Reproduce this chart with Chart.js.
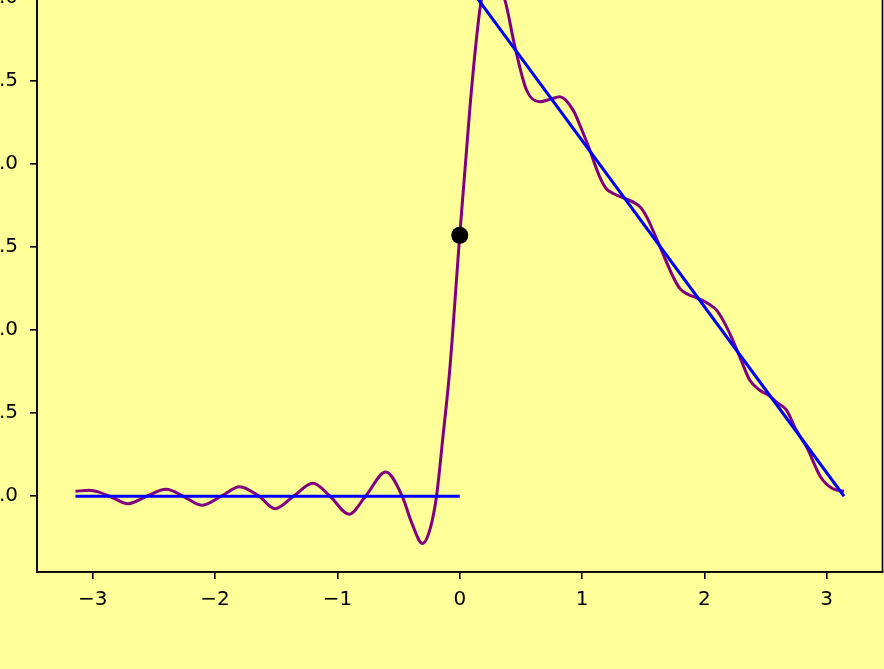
<!DOCTYPE html>
<html>
<head>
<meta charset="utf-8">
<script src="https://cdn.jsdelivr.net/npm/chart.js@4"></script>
<style>
    html, body {margin: 0; padding: 0; background: #ffff99; overflow: hidden; width: 884px; height: 669px;}
    #chart {position: absolute; left: 0; top: -84px;}
</style>
</head>
<body>
<canvas id="chart" width="891" height="753"></canvas>
<script>
// partial Fourier sum
const fourierX = [-3.1416, -3.03, -2.95, -2.86, -2.71, -2.56, -2.40, -2.26, -2.11, -1.95, -1.80, -1.64,
    -1.51, -1.36, -1.20, -1.06, -0.905, -0.77, -0.605, -0.47, -0.39, -0.305, -0.24, -0.19, -0.14, -0.082,
    0, 0.082, 0.136, 0.177, 0.27, 0.368, 0.45, 0.546, 0.655, 0.74, 0.818, 0.927, 0.99, 1.05, 1.146, 1.20,
    1.255, 1.35, 1.473, 1.53, 1.58, 1.65, 1.745, 1.80, 1.855, 1.95, 2.03, 2.10, 2.16, 2.22, 2.30, 2.37,
    2.45, 2.54, 2.60, 2.67, 2.75, 2.84, 2.95, 3.05, 3.1416];
const fourierY = [0.030, 0.036, 0.025, 0.0, -0.045, 0.0, 0.042, 0.0, -0.054, 0.0, 0.058, 0.0,
    -0.075, 0.0, 0.078, 0.0, -0.108, 0.0, 0.146, 0.0, -0.165, -0.285, -0.19, 0.0, 0.34, 0.76,
    1.571, 2.33, 2.75, 2.99, 3.12, 2.99, 2.71, 2.446, 2.375, 2.39, 2.405, 2.325, 2.22, 2.11, 1.92, 1.85,
    1.823, 1.793, 1.743, 1.68, 1.60, 1.48, 1.32, 1.25, 1.22, 1.19, 1.16, 1.12, 1.05, 0.96, 0.82, 0.70,
    0.64, 0.60, 0.56, 0.52, 0.40, 0.29, 0.116, 0.045, 0.030];

// the function itself
const stepX = [-3.1416, 0];
const stepY = [0, 0];
const rampX = [0, 3.1416];
const rampY = [3.1416, 0];

// value at the jump
const midX = [0];
const midY = [1.5708];

const xTicks = [-3, -2, -1, 0, 1, 2, 3];
const yTicks = [0, 0.5, 1.0, 1.5, 2.0, 2.5, 3.0];

const toPoints = (xs, ys) => xs.map((x, i) => ({x: x, y: ys[i]}));

const frame = {
    id: 'frame',
    beforeDraw(chart) {
        const ctx = chart.ctx;
        ctx.save();
        ctx.fillStyle = '#ffff99';
        ctx.fillRect(0, 0, chart.width, chart.height);
        ctx.restore();
    },
    afterDraw(chart) {
        const a = chart.chartArea;
        const ctx = chart.ctx;
        ctx.save();
        ctx.strokeStyle = '#000000';
        ctx.lineWidth = 1.6;
        ctx.strokeRect(a.left, a.top, a.right - a.left, a.bottom - a.top);
        ctx.restore();
    }
};

const axisGrid = {
    display: true,
    drawOnChartArea: false,
    drawTicks: true,
    tickLength: 7,
    lineWidth: 1.6,
    color: '#000000'
};

new Chart(document.getElementById('chart').getContext('2d'), {
    type: 'line',
    data: {
        datasets: [
            {
                data: toPoints(midX, midY),
                showLine: false,
                pointRadius: 8.5,
                pointBackgroundColor: '#000000',
                pointBorderWidth: 0,
                order: 0
            },
            {
                data: toPoints(stepX, stepY),
                borderColor: '#0000ff',
                borderWidth: 3,
                pointRadius: 0,
                order: 1
            },
            {
                data: toPoints(rampX, rampY),
                borderColor: '#0000ff',
                borderWidth: 3,
                pointRadius: 0,
                order: 1
            },
            {
                data: toPoints(fourierX, fourierY),
                borderColor: '#800080',
                borderWidth: 3,
                pointRadius: 0,
                cubicInterpolationMode: 'monotone',
                order: 2
            }
        ]
    },
    options: {
        responsive: false,
        devicePixelRatio: 1,
        animation: false,
        layout: {padding: {top: 30, right: 2, left: 0, bottom: 0}},
        plugins: {legend: {display: false}, tooltip: {enabled: false}},
        scales: {
            x: {
                type: 'linear',
                min: -3.456,
                max: 3.456,
                grid: axisGrid,
                border: {display: true, color: '#000000', width: 1.6},
                afterFit: scale => { scale.height = 97; },
                afterBuildTicks: scale => { scale.ticks = xTicks.map(v => ({value: v})); },
                ticks: {
                    padding: 9,
                    color: '#000000',
                    font: {family: 'DejaVu Sans', size: 20},
                    callback: v => String(v).replace('-', '\u2212')
                }
            },
            y: {
                type: 'linear',
                min: -0.456,
                max: 3.313,
                grid: axisGrid,
                border: {display: true, color: '#000000', width: 1.6},
                afterFit: scale => { scale.width = 37; },
                afterBuildTicks: scale => { scale.ticks = yTicks.map(v => ({value: v})); },
                ticks: {
                    padding: 12,
                    color: '#000000',
                    font: {family: 'DejaVu Sans', size: 20},
                    callback: v => Number(v).toFixed(1)
                }
            }
        }
    },
    plugins: [frame]
});
</script>
</body>
</html>
